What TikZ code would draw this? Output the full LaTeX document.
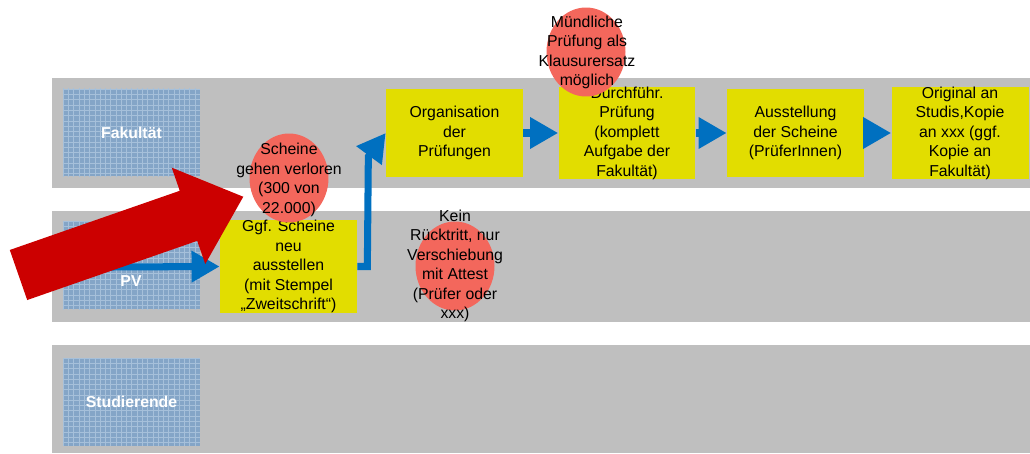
\documentclass[tikz,border=0pt]{standalone}
\usepackage{fontspec}
\setmainfont{Liberation Sans}
\usetikzlibrary{shapes.geometric, arrows.meta, patterns}
\definecolor{lanegray}{RGB}{191, 191, 191}
\definecolor{labelblue}{RGB}{132, 165, 199}
\definecolor{gridblue}{RGB}{166, 192, 218}
\definecolor{taskyellow}{RGB}{226, 221, 0}
\definecolor{flowblue}{RGB}{0, 112, 192}
\definecolor{notered}{RGB}{243, 103, 92}
\definecolor{alertred}{RGB}{204, 0, 0}

\begin{document}
\begin{tikzpicture}[
    x=0.02cm, y=-0.02cm,
    lane/.style={fill=lanegray},
    lanebox/.style={
        rectangle,
        minimum width=2.74cm,
        minimum height=1.76cm,
        inner sep=0pt,
        fill=labelblue,
        postaction={pattern=grid, pattern color=gridblue}
    },
    lanetext/.style={
        text=white,
        inner sep=0pt,
        font=\fontsize{9}{11.1}\selectfont\bfseries
    },
    task/.style={
        rectangle,
        fill=taskyellow,
        minimum width=2.74cm,
        minimum height=1.76cm,
        inner sep=0pt,
        align=center,
        font=\fontsize{9}{11.1}\selectfont
    },
    bubble/.style={
        ellipse,
        fill=notered,
        minimum width=1.58cm,
        minimum height=1.78cm,
        inner sep=0pt
    },
    bubbletext/.style={
        align=center,
        inner sep=0pt,
        font=\fontsize{9}{11.1}\selectfont
    },
    flow/.style={
        -{Triangle[length=16pt, width=17pt]},
        line width=4pt,
        flowblue
    }
]
    \useasboundingbox (0,0) rectangle (1030,453);

    % Swim lanes
    \fill[lane] (52,78) rectangle (1030,188);
    \fill[lane] (52,211) rectangle (1030,322);
    \fill[lane] (52,345) rectangle (1030,453);

    % Lane labels
    \node[lanebox] (fak) at (131.5,132.5) {};
    \node[lanetext] at (fak) {Fakultät};
    \node[lanebox] (pv) at (131.5,265.5) {};
    \node[lanetext] (pvtxt) at (131,281) {PV};
    \node[lanebox] (stud) at (131.5,402) {};
    \node[lanetext] at (stud) {Studierende};

    % Tasks
    \node[task] (org) at (454.5,133) {Organisation\\der\\Prüfungen};
    \node[task] (durch) at (627,133) {Durchführ.\\Prüfung\\(komplett\\Aufgabe der\\Fakultät)};
    \node[task] (aus) at (795.5,133) {Ausstellung\\der Scheine\\(PrüferInnen)};
    \node[task] (orig) at (960,133) {Original an\\Studis,Kopie\\an xxx (ggf.\\Kopie an\\Fakultät)};
    \node[task] (ggf) at (288.5,266.5) {Ggf. Scheine\\neu\\ausstellen\\(mit Stempel\\„Zweitschrift“)};

    % Flow
    \coordinate (pvout) at (110,267);
    \draw[flow] (pvout) -- (ggf.west);
    \draw[flow] (ggf.east) -- ++(10,0) -- ++(1,-110) -- (org.west);
    \draw[flow] (org.east) -- (durch.west);
    \draw[flow] (durch.east) -- (aus.west);
    \draw[flow] (aus.east) -- (orig.west);

    % Notes
    \node[bubble] (verloren) at (289,178) {};
    \node[bubbletext] at (289,180) {Scheine\\gehen verloren\\(300 von\\22.000)};
    \node[bubble] (muendlich) at (586,52) {};
    \node[bubbletext] at (587,52.5) {Mündliche\\Prüfung als\\Klausurersatz\\möglich};
    \node[bubble] (ruecktritt) at (455,266) {};
    \node[bubbletext] at (455,266) {Kein\\Rücktritt, nur\\Verschiebung\\mit Attest\\(Prüfer oder\\xxx)};

    % Big red arrow
    \fill[alertred, shift={(18.5,275)}, rotate=19.2]
        (0,-26.5) -- (180,-26.5) -- (180,-51) -- (238,0)
        -- (180,51) -- (180,26.5) -- (0,26.5) -- cycle;
\end{tikzpicture}
\end{document}
